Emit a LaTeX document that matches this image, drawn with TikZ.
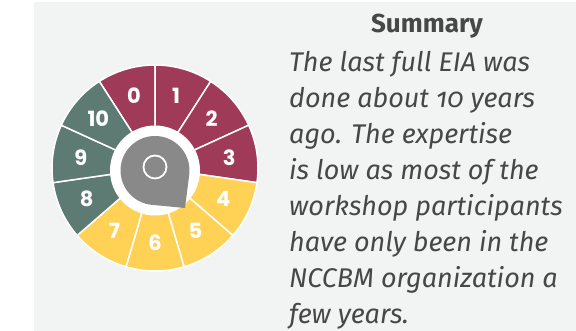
\documentclass[tikz,border=0pt]{standalone}
\usepackage{fontspec}
\setmainfont{Fira Sans}[Numbers=OldStyle]
\newfontfamily\digitfont{Poppins}
\usetikzlibrary{positioning}

\definecolor{panelgray}{HTML}{F2F3F3}
\definecolor{wine}{HTML}{A03A59}
\definecolor{sun}{HTML}{FFD154}
\definecolor{sage}{HTML}{5D7B73}
\definecolor{pingray}{HTML}{898989}
\definecolor{inkgray}{HTML}{474747}

\tikzset{
    segment/.style={draw=white, line width=1.5pt, line join=round},
    digit/.style={text=white, font=\digitfont\bfseries\fontsize{21}{21}\selectfont, inner sep=0pt},
}

\begin{document}
\begin{tikzpicture}[x=1pt,y=1pt]
    \useasboundingbox (0,0) rectangle (576,331);
    \fill[panelgray] (34,0) rectangle (576,329);

    \coordinate (c) at (155,163);
    \coordinate (h) at (155,160.5);
    \coordinate (tip) at (185,123);

    % wheel segments 0..10
    \foreach \k/\col in {0/wine,1/wine,2/wine,3/wine,4/sun,5/sun,6/sun,7/sun,8/sage,9/sage,10/sage} {
        \pgfmathsetmacro{\a}{90-(\k-1)*360/11}
        \pgfmathsetmacro{\b}{90-\k*360/11}
        \pgfmathsetmacro{\m}{90-(\k-0.5)*360/11}
        \filldraw[segment, fill=\col] (c) ++(\a:103pt) arc[start angle=\a, end angle=\b, radius=103pt]
            -- ++(\b:-63pt) arc[start angle=\b, end angle=\a, radius=40pt] -- cycle;
        \node[digit] (n\k) at ([shift={(\m:75pt)}]c) {\k};
    }

    % pin in the middle
    \fill[white] (h) circle[radius=45pt];
    \fill[pingray] (tip) -- ([shift={(-7.2:34.5pt)}]h) arc[start angle=-7.2, end angle=263.8, radius=34.5pt] -- cycle;
    \draw[white, line width=1.8pt] (155,164) circle[radius=11.5pt];

    \node[text=inkgray, font=\bfseries\fontsize{26}{26}\selectfont, anchor=base] (title) at (427,298) {Summary};
    \node[text=inkgray, font=\itshape\fontsize{27}{36}\selectfont, align=left, anchor=north west, inner sep=0pt] (summary) at (289,280)
        {The last full EIA was\\ done about 10 years\\ ago. The expertise\\ is low as most of the\\ workshop participants\\ have only been in the\\ NCCBM organization a\\ few years.};
\end{tikzpicture}
\end{document}
